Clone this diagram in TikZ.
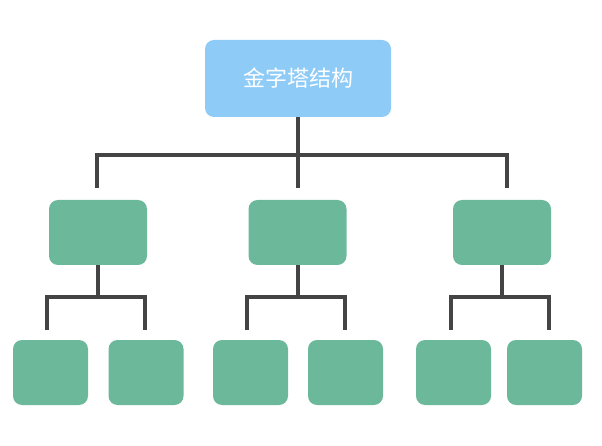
\documentclass[tikz,border=0pt]{standalone}
\usepackage{fontspec}
\newfontfamily\cjk{Noto Sans CJK SC}
\begin{document}
\begin{tikzpicture}[x=1pt,y=-1pt,
  top/.style={draw=none,fill=topc,rounded corners=9pt,minimum width=186pt,minimum height=77pt,text=white,font=\cjk\fontsize{22}{26}\selectfont},
  mid/.style={fill=boxc,rounded corners=9pt,minimum width=98pt,minimum height=65pt},
  bot/.style={fill=boxc,rounded corners=9pt,minimum width=75pt,minimum height=65pt},
  ln/.style={draw=linec,line width=4pt}]
\definecolor{topc}{HTML}{8FCBF7}
\definecolor{boxc}{HTML}{6CB89B}
\definecolor{linec}{HTML}{444444}
\useasboundingbox (0,0) rectangle (602,446);
\node[top] (t) at (298,78.5) {金字塔结构};
\node[mid] (m1) at (98,232.5) {};
\node[mid] (m2) at (297.5,232.5) {};
\node[mid] (m3) at (502,232.5) {};
\node[bot] (b1) at (50.5,372.5) {};
\node[bot] (b2) at (146,372.5) {};
\node[bot] (b3) at (250.5,372.5) {};
\node[bot] (b4) at (345.5,372.5) {};
\node[bot] (b5) at (453.5,372.5) {};
\node[bot] (b6) at (544.5,372.5) {};
\coordinate (h1) at (97,155); \coordinate (h3) at (507,155);
\coordinate (hc) at (298,155);
\draw[ln] (t.south) -- (hc);
\draw[ln] (97,188) -- (h1) -- (h3) -- (507,188);
\draw[ln] (hc) -- (298,188);
\foreach \m/\l/\r in {m1/47/145, m2/247/345, m3/451/549}{
  \path (\m.south) ++(0,32) coordinate (c\m);
  \draw[ln] (\m.south) -- (c\m);
  \draw[ln] (\l,330) -- (\l,297) -- (\r,297) -- (\r,330);
}
\end{tikzpicture}
\end{document}
